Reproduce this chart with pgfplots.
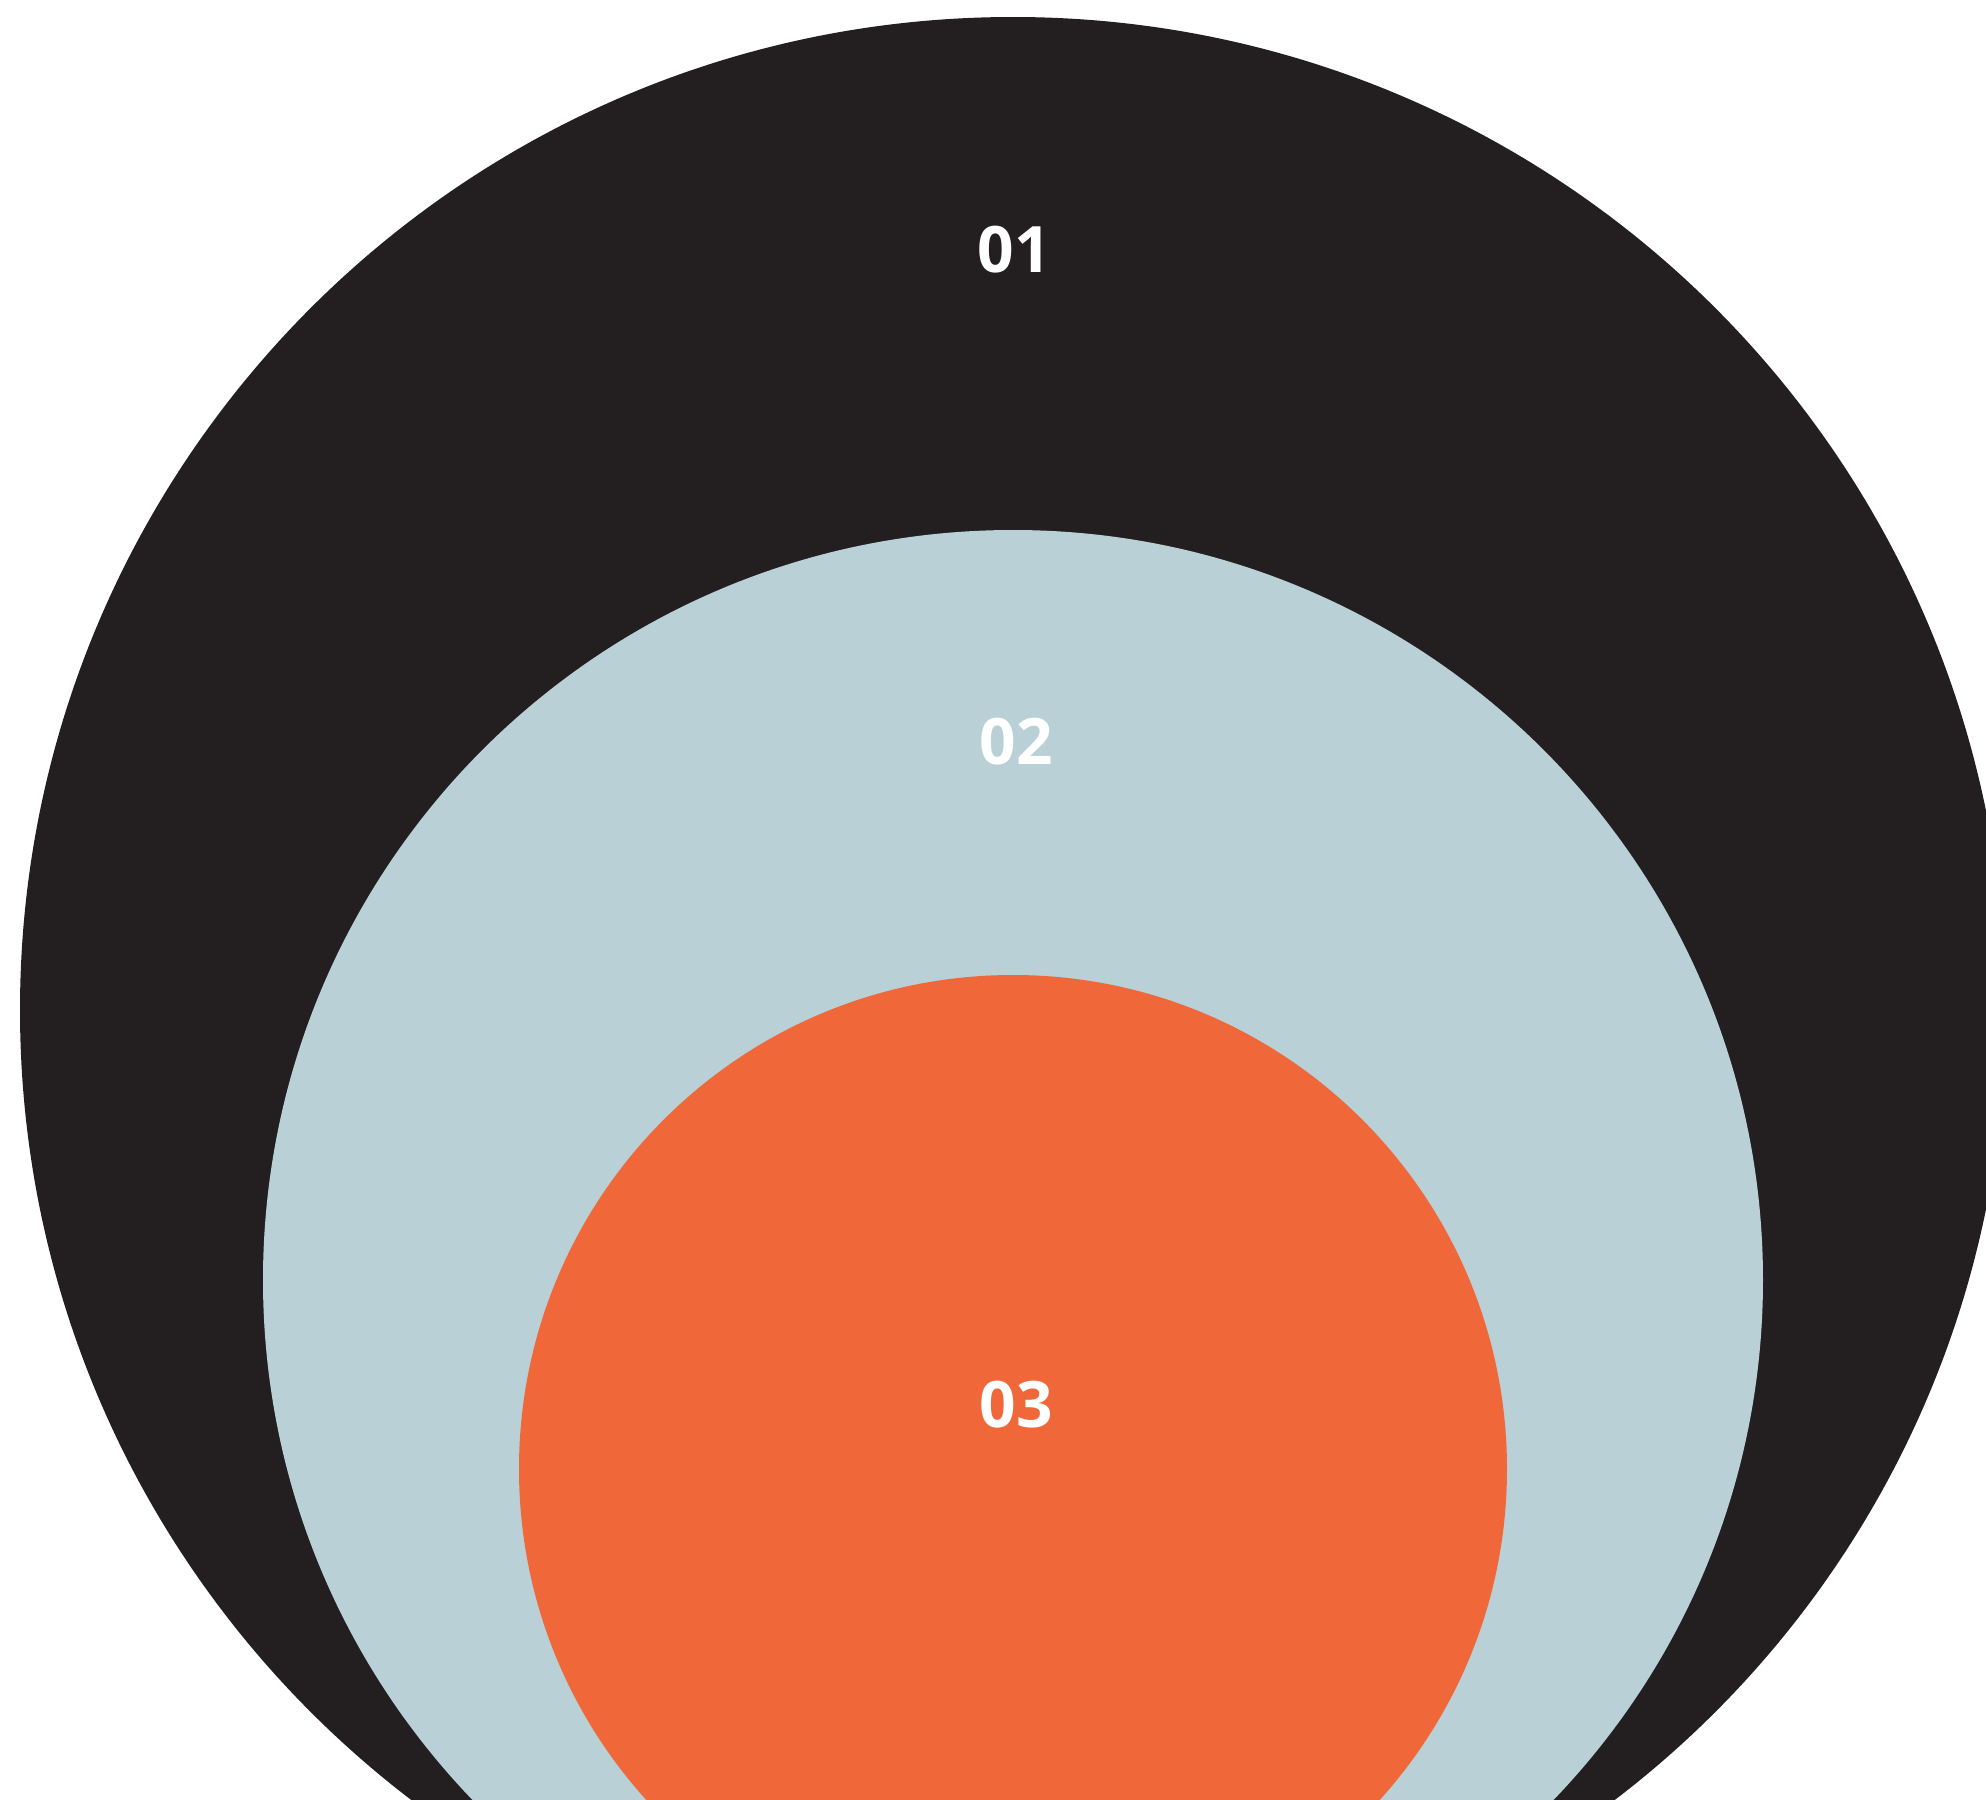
\documentclass[border=0pt]{standalone}
\usepackage{pgfplots}
\pgfplotsset{compat=1.18}
\usepackage{fontspec}
\setmainfont{Liberation Sans}
\newfontfamily\labfont{Open Sans}[UprightFont=* Bold]
\definecolor{cblack}{RGB}{35,31,32}
\definecolor{cblue}{RGB}{184,208,214}
\definecolor{corange}{RGB}{240,104,58}
\begin{document}
\begin{tikzpicture}
\begin{axis}[
  hide axis, scale only axis,
  width=496.5pt, height=450pt,
  xmin=0, xmax=1986, ymin=0, ymax=1800,
  y dir=reverse, clip=true,
]
\fill[cblack] (axis cs:1013,1010) circle[radius=993];
\fill[cblue] (axis cs:1013,1280) circle[radius=750];
\fill[corange] (axis cs:1013,1469) circle[radius=494];
\addplot[only marks, mark=none, point meta=explicit symbolic,
  nodes near coords={\labfont\fontsize{16}{18}\selectfont\pgfplotspointmeta},
  nodes near coords style={anchor=center, text=white}]
  table[meta=lab] {
x y lab
1014 249.5 01
1016 742 02
1016 1405 03
};
\end{axis}
\pgfresetboundingbox
\useasboundingbox (current axis.south west) rectangle (current axis.north east);
\end{tikzpicture}
\end{document}
